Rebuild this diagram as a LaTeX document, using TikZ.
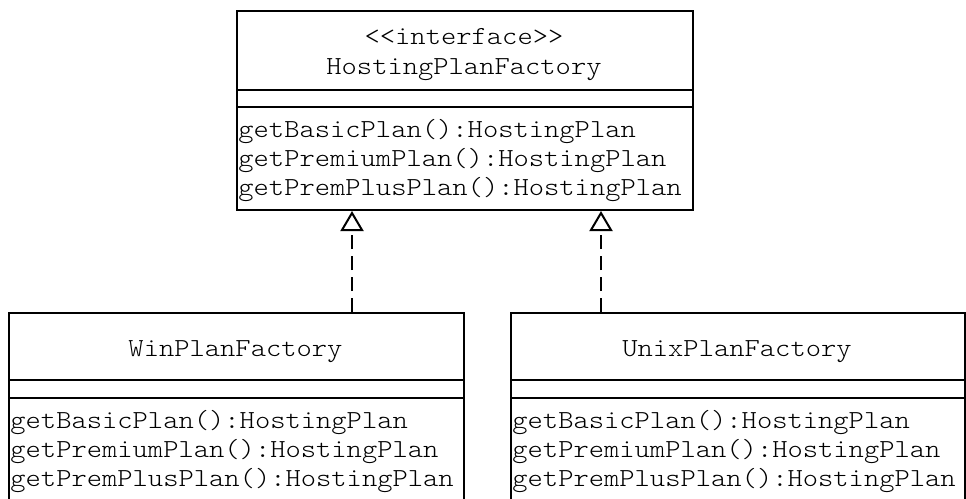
\documentclass[tikz,border=0pt]{standalone}
\usepackage{fontspec}
\newfontfamily\umlfont[FakeStretch=1.12]{Latin Modern Mono Light}
\usetikzlibrary{arrows.meta}
\tikzset{
  classbox/.style={draw, line width=1pt, rectangle, inner sep=0pt, anchor=north west},
  sepline/.style={line width=1pt},
  mtext/.style={inner sep=0pt, anchor=base west, font=\umlfont\fontsize{13}{14.75}\selectfont},
  ctext/.style={inner sep=0pt, anchor=base, font=\umlfont\fontsize{13}{14.75}\selectfont},
  realize/.style={line width=1pt, dash pattern=on 7pt off 3.5pt, -{Triangle[open, length=10pt, width=11.5pt, line width=1pt]}}
}
\begin{document}
\begin{tikzpicture}[x=0.5pt,y=-0.5pt]
\useasboundingbox (0,0) rectangle (966,499);
\clip (0,0) rectangle (966,499);
\fill[white] (0,0) rectangle (966,499);
% top interface box
\node[classbox, minimum width=228pt, minimum height=99.5pt] (top) at (236,10) {};
\draw[sepline] (top.west |- 0,90) -- (top.east |- 0,90);
\draw[sepline] (top.west |- 0,107) -- (top.east |- 0,107);
\node[ctext] (tst) at (464,44) {<{}<interface>{}>};
\node[ctext] (tname) at (464,74) {HostingPlanFactory};
\node[mtext] (tm1) at (238,137) {getBasicPlan():HostingPlan};
\node[mtext] (tm2) at (238,166) {getPremiumPlan():HostingPlan};
\node[mtext] (tm3) at (238,195) {getPremPlusPlan():HostingPlan};
% left box
\node[classbox, minimum width=227.5pt, minimum height=104pt] (win) at (8,312) {};
\draw[sepline] (win.west |- 0,380) -- (win.east |- 0,380);
\draw[sepline] (win.west |- 0,397.5) -- (win.east |- 0,397.5);
\node[ctext] (wname) at (235.5,356) {WinPlanFactory};
\node[mtext] (wm1) at (10,428) {getBasicPlan():HostingPlan};
\node[mtext] (wm2) at (10,457) {getPremiumPlan():HostingPlan};
\node[mtext] (wm3) at (10,486) {getPremPlusPlan():HostingPlan};
% right box
\node[classbox, minimum width=227pt, minimum height=104pt] (unix) at (510,312) {};
\draw[sepline] (unix.west |- 0,380) -- (unix.east |- 0,380);
\draw[sepline] (unix.west |- 0,397.5) -- (unix.east |- 0,397.5);
\node[ctext] (uname) at (737,356) {UnixPlanFactory};
\node[mtext] (um1) at (512,428) {getBasicPlan():HostingPlan};
\node[mtext] (um2) at (512,457) {getPremiumPlan():HostingPlan};
\node[mtext] (um3) at (512,486) {getPremPlusPlan():HostingPlan};
% realizations
\coordinate (c1) at (352,312);
\coordinate (c2) at (601,312);
\draw[realize] (c1) -- (c1 |- top.south);
\draw[realize] (c2) -- (c2 |- top.south);
\end{tikzpicture}
\end{document}
